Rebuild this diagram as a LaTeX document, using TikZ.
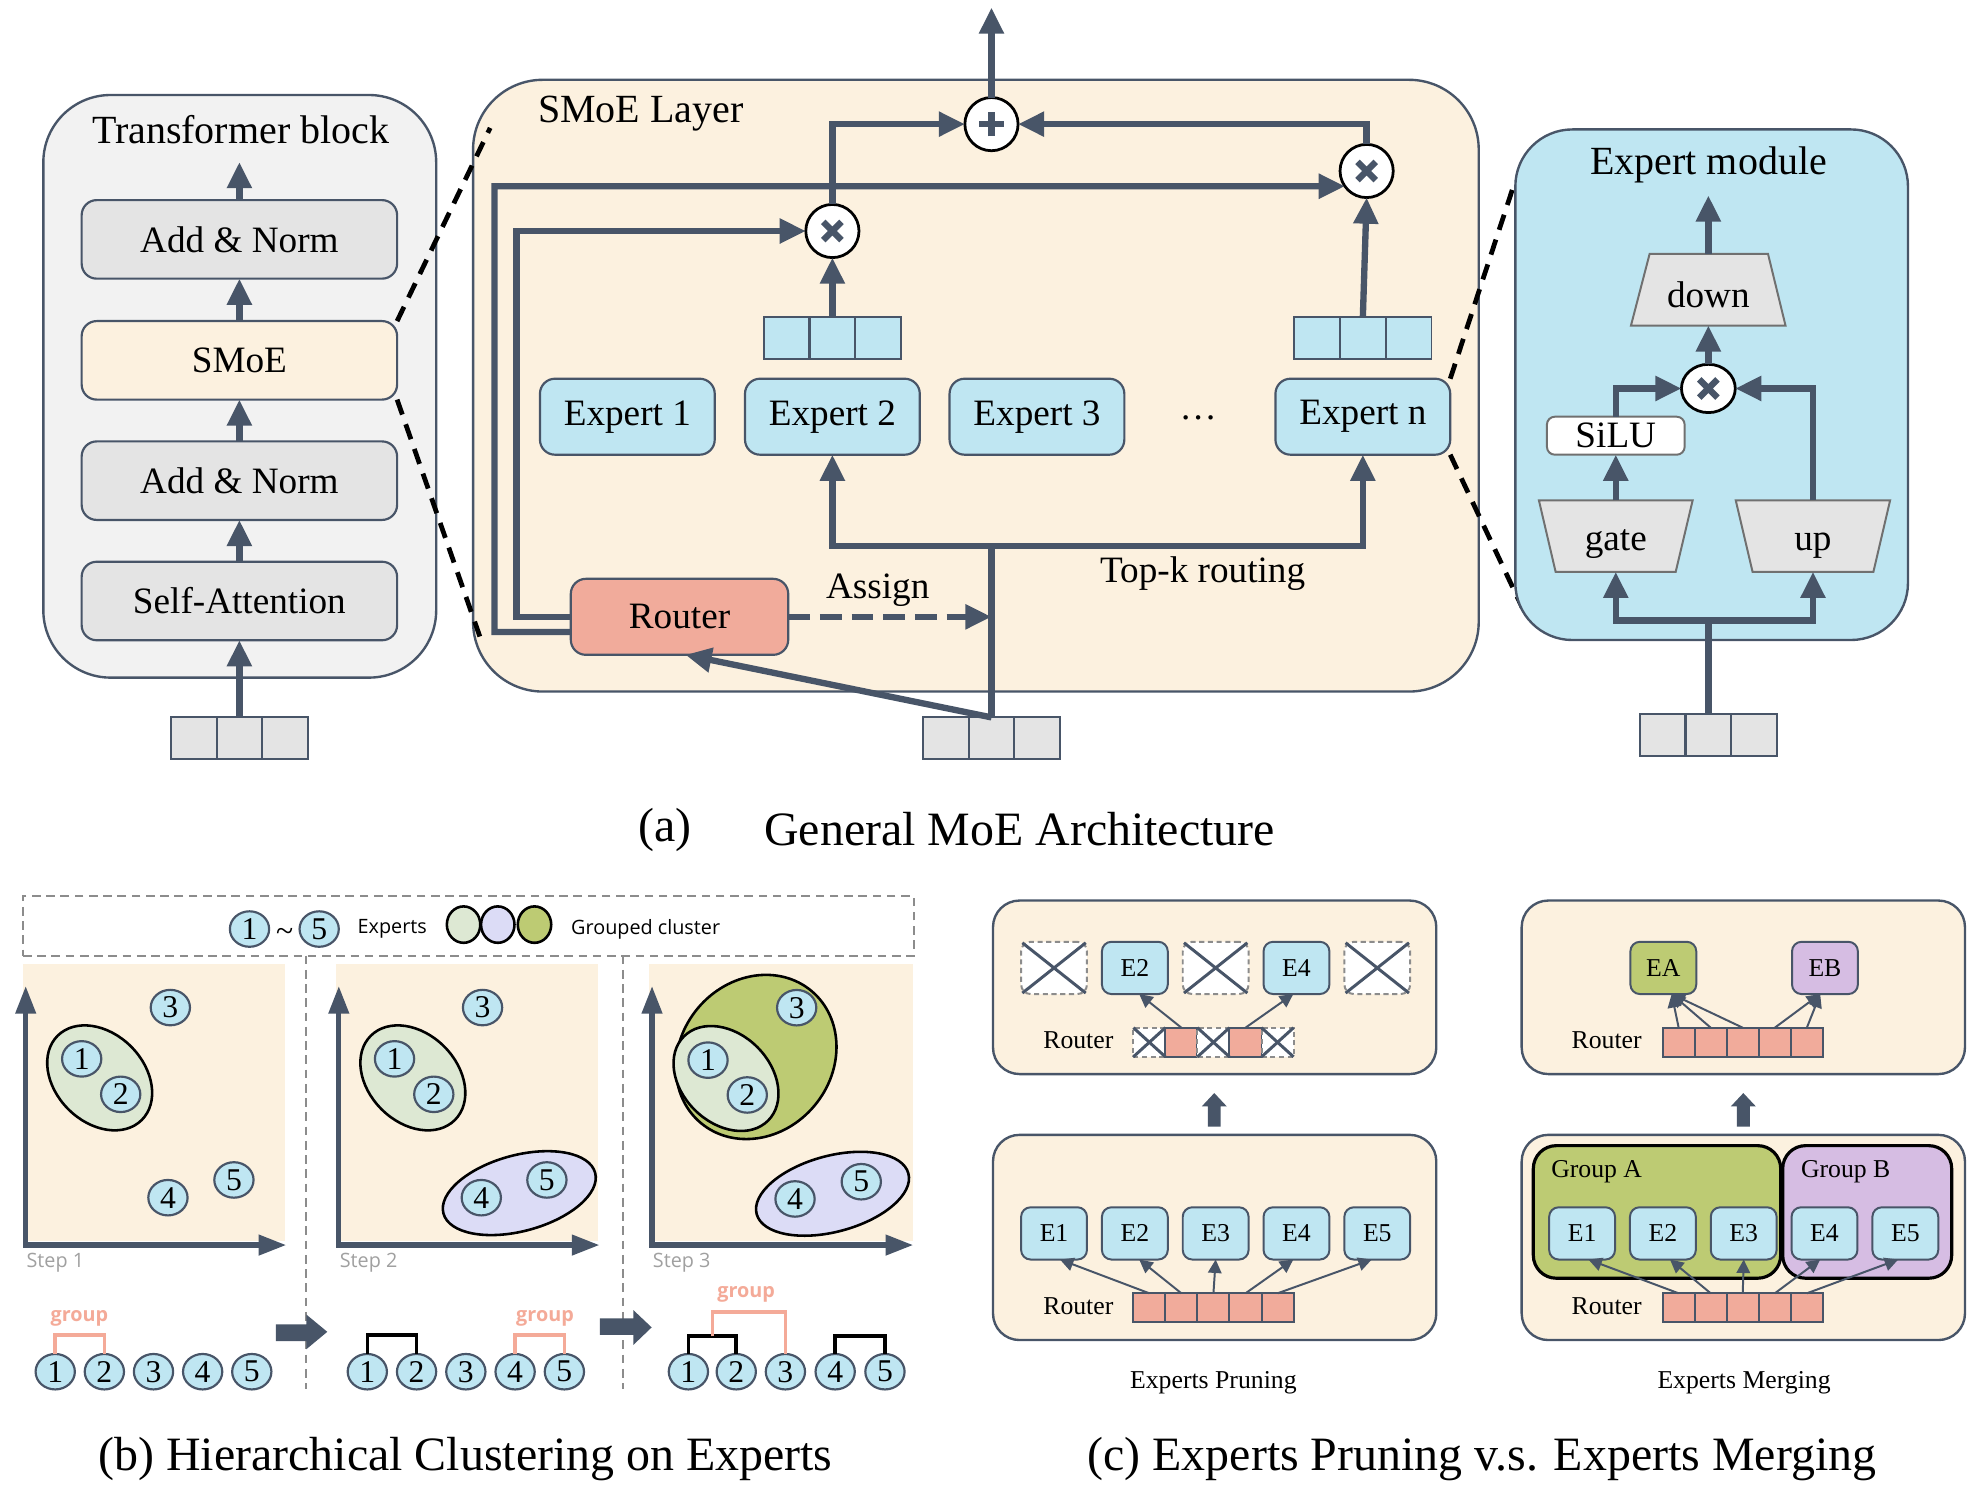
\documentclass[tikz,border=0pt]{standalone}
\usepackage{fontspec}
\setmainfont{Liberation Serif}
\newfontfamily\osans{Open Sans}
\usetikzlibrary{arrows.meta,shapes.geometric,calc}
\definecolor{slate}{RGB}{72,85,104}
\definecolor{cream}{RGB}{252,241,223}
\definecolor{lgray}{RGB}{228,228,228}
\definecolor{pgray}{RGB}{242,242,242}
\definecolor{eblue}{RGB}{191,230,242}
\definecolor{salm}{RGB}{241,171,155}
\definecolor{lgreen}{RGB}{221,232,211}
\definecolor{lav}{RGB}{220,220,246}
\definecolor{olive}{RGB}{189,203,115}
\definecolor{lilac}{RGB}{214,189,227}
\definecolor{grpc}{RGB}{244,170,152}
\definecolor{stepc}{RGB}{160,160,160}
\definecolor{trapb}{RGB}{112,112,112}
\definecolor{dgray}{RGB}{140,140,140}
\newcommand\fsT{\fontsize{10.1}{12}\selectfont}
\newcommand\fsM{\fontsize{9.4}{11}\selectfont}
\newcommand\fsC{\fontsize{12.1}{14}\selectfont}
\newcommand\fsS{\fontsize{6.5}{8}\selectfont}
\newcommand\fsN{\fontsize{8}{9}\selectfont}
\newcommand\fsL{\osans\fontsize{5}{6}\selectfont}
\newcommand\fsG{\osans\bfseries\fontsize{5}{6}\selectfont}
\newcommand\drawtimes[1]{\draw[slate,line width=1.6pt] ([shift={(-2.3pt,-2.3pt)}]#1.center) -- ([shift={(2.3pt,2.3pt)}]#1.center) ([shift={(-2.3pt,2.3pt)}]#1.center) -- ([shift={(2.3pt,-2.3pt)}]#1.center);}
\newcommand\drawplus[1]{\draw[slate,line width=1.7pt] ([xshift=-3.1pt]#1.center) -- ([xshift=3.1pt]#1.center) ([yshift=-3.1pt]#1.center) -- ([yshift=3.1pt]#1.center);}
\begin{document}
\begin{tikzpicture}[x=0.32pt,y=-0.32pt,
  every node/.style={inner sep=0pt, outer sep=0pt},
  conn/.style={draw=slate, line width=1.6pt, -{Triangle[length=6.6pt,width=6pt]}},
  plainln/.style={draw=slate, line width=1.6pt},
  bigpanel/.style={draw=slate, line width=0.6pt},
  tbox/.style={draw=slate, line width=0.55pt, fill=lgray, rounded corners=3.8pt, minimum width=79.7pt, minimum height=19.84pt, font=\fsM},
  ebox/.style={draw=slate, line width=0.55pt, fill=eblue, rounded corners=3.8pt, minimum width=44.16pt, minimum height=19.2pt, font=\fsM},
  rbox/.style={ebox, fill=salm, minimum width=54.94pt},
  gcell/.style={draw=slate, line width=0.5pt, fill=lgray, minimum width=11.52pt, minimum height=10.5pt},
  bcell/.style={gcell, fill=eblue},
  opc/.style={circle, draw=black, fill=white, line width=0.7pt, minimum size=13.44pt},
  zline/.style={draw=black, line width=1.2pt, dash pattern=on 4pt off 2.6pt},
  trap/.style={draw=trapb, line width=0.5pt, fill=lgray},
  tlabel/.style={minimum height=18.08pt, font=\fsM},
  cpanel/.style={draw=slate, line width=0.6pt, fill=cream, rounded corners=6.7pt, minimum width=112pt},
  cbox/.style={draw=slate, line width=0.5pt, fill=eblue, rounded corners=2.4pt, minimum width=16.64pt, minimum height=13.2pt, font=\fsS},
  xbox/.style={draw=dgray, dash pattern=on 1.3pt off 0.9pt, line width=0.5pt, fill=white, rounded corners=2.4pt, minimum width=16.64pt, minimum height=13.2pt},
  rcell/.style={draw=slate, line width=0.5pt, fill=salm, minimum width=8.1pt, minimum height=7.36pt},
  xcell/.style={rcell, fill=white, draw=dgray, dash pattern=on 1.3pt off 0.9pt},
  xl/.style={draw=slate, line width=0.75pt},
  carr/.style={draw=slate, line width=0.5pt, -{Triangle[length=3.4pt,width=3.4pt]}},
  grp/.style={draw=black, line width=0.8pt, rounded corners=5.8pt, minimum height=33.5pt},
  numc/.style={ellipse, draw=slate, line width=0.55pt, fill=eblue, minimum width=9.92pt, minimum height=8.96pt, font=\fsN},
  clus/.style={draw=black, line width=0.65pt},
  axisln/.style={draw=slate, line width=1.3pt, {Triangle[length=7pt,width=5pt]}-{Triangle[length=7pt,width=5pt]}},
  blk/.style={draw=black, line width=0.9pt},
  grpln/.style={draw=grpc, line width=0.9pt},
  grpl/.style={font=\fsG, text=grpc},
  stepl/.style={font=\fsL, text=stepc, anchor=west},
  sepln/.style={draw=dgray, line width=0.45pt, dash pattern=on 2.2pt off 1.4pt},
  clab/.style={font=\fsS}
]
\useasboundingbox (0,0) rectangle (1568,1178);
\fill[white] (0,0) rectangle (1568,1178);

% ================= (a) Transformer block =================
\node[bigpanel, fill=pgray, rounded corners=17pt, minimum width=99.26pt, minimum height=147.2pt] (tb) at (189.3,305) {};
\node[font=\fsT] (tbt) at (190,102) {Transformer block};
\node[tbox] (an2) at (189,189) {Add \& Norm};
\node[tbox, fill=cream] (smoe) at (189,284.5) {SMoE};
\node[tbox] (an1) at (189,379.5) {Add \& Norm};
\node[tbox] (sa) at (189,474.5) {Self-Attention};
\node[gcell] (ti1) at (153,582.8) {};
\node[gcell] (ti2) at (189,582.8) {};
\node[gcell] (ti3) at (225,582.8) {};
\coordinate (tbo) at (189,128);
\draw[conn] (ti2.north) -- (sa.south);
\draw[conn] (sa.north) -- (an1.south);
\draw[conn] (an1.north) -- (smoe.south);
\draw[conn] (smoe.north) -- (an2.south);
\draw[conn] (an2.north) -- (tbo);

% ================= (a) SMoE layer =================
\node[bigpanel, fill=cream, rounded corners=17.6pt, minimum width=254.08pt, minimum height=154.56pt] (sl) at (770.5,304.5) {};
\node[font=\fsT] (slt) at (506,90) {SMoE Layer};
\node[ebox] (e1) at (495.3,329) {Expert 1};
\node[ebox] (e2) at (657.2,329) {Expert 2};
\node[ebox] (e3) at (818.7,329) {Expert 3};
\node[ebox] (en) at (1076,329) {Expert n};
\node[font=\fsM] (dots) at (946,330) {\dots};
\node[bcell] (v21) at (621.1,267) {};
\node[bcell] (v22) at (657.2,267) {};
\node[bcell] (v23) at (693.3,267) {};
\node[bcell] (vn1) at (1039.8,267) {};
\node[bcell] (vn2) at (1076,267) {};
\node[bcell] (vn3) at (1112.2,267) {};
\node[opc] (xa) at (657.2,182.4) {};
\node[opc] (xb) at (1079,135) {};
\node[opc] (pl) at (782.8,98) {};
\node[rbox] (router) at (536.5,487) {Router};
\node[gcell] (si1) at (746.8,582.8) {};
\node[gcell] (si2) at (782.8,582.8) {};
\node[gcell] (si3) at (818.8,582.8) {};
\coordinate (out) at (782.8,6);
\coordinate (jn) at (782.8,431);
\coordinate (asg) at (782.8,487);
\draw[conn] (v22.north) -- (xa.south);
\draw[conn] (vn2.north) -- (xb.south);
\draw[conn] (xa.north) |- (pl.west);
\draw[conn] (xb.north) |- (pl.east);
\draw[conn] (pl.north) -- (out);
\draw[plainln] (si2.north) -- (jn);
\draw[conn] (jn) -| (e2.south);
\draw[conn] (jn) -| (en.south);
\draw[conn] (si2.north) -- ([xshift=1.5pt]router.south);
\draw[conn, dash pattern=on 5.5pt off 2.5pt] (router.east) -- (asg);
\draw[conn] (router.west) -| (407.7,182.4) -- (xa.west);
\draw[conn] ([yshift=-3.84pt]router.west) -| (390.4,147.05) -- (xb.215);
\drawtimes{xa}
\drawtimes{xb}
\drawplus{pl}
\node[font=\fsM] (asgl) at (693,466) {Assign};
\node[font=\fsM] (topk) at (949.5,453) {Top-k routing};

% zoom connectors
\coordinate (z1) at (387,101);
\coordinate (z2) at (379,503);
\coordinate (z3) at (1196.4,142.5);
\coordinate (z4) at (1202,480);
\draw[zline] (smoe.north east) -- (z1);
\draw[zline] (smoe.south east) -- (z2);
\draw[zline] (en.north east) -- (z3);
\draw[zline] (en.south east) -- (z4);

% ================= (a) Expert module =================
\node[bigpanel, fill=eblue, rounded corners=14.4pt, minimum width=99.2pt, minimum height=129pt] (em) at (1351.4,303.75) {};
\node[font=\fsT] (emt) at (1349,130) {Expert module};
\filldraw[trap] (1302.4,200.5) -- (1395.9,200.5) -- (1409.7,257) -- (1287.7,257) -- cycle;
\filldraw[trap] (1215,395) -- (1336.4,395) -- (1323,451.5) -- (1228.2,451.5) -- cycle;
\filldraw[trap] (1370.4,395) -- (1492.3,395) -- (1479.1,451.5) -- (1383.7,451.5) -- cycle;
\node[tlabel] (down) at (1348.8,228.75) {};
\node[tlabel] (gate) at (1275.7,423.25) {};
\node[tlabel] (up) at (1431.4,423.25) {};
\node[font=\fsM, anchor=base] (downt) at (1348.8,242.5) {down};
\node[font=\fsM, anchor=base] (gatet) at (1275.7,435) {gate};
\node[font=\fsM, anchor=base] (upt) at (1431.4,435) {up};
\node[draw=trapb, line width=0.5pt, fill=white, rounded corners=2pt, minimum width=34.8pt, minimum height=9.6pt, font=\fsM] (silu) at (1275.7,344) {SiLU};
\node[ellipse, draw=black, fill=white, line width=0.7pt, minimum width=13.6pt, minimum height=12.2pt] (ex) at (1348.8,306.7) {};
\drawtimes{ex}
\node[gcell] (mi1) at (1312.7,580.5) {};
\node[gcell] (mi2) at (1348.8,580.5) {};
\node[gcell] (mi3) at (1384.9,580.5) {};
\coordinate (emo) at (1348.8,154.3);
\coordinate (mj) at (1348.8,489.8);
\draw[conn] (down.north) -- (emo);
\draw[conn] (ex.north) -- (down.south);
\draw[conn] (gate.north) -- (silu.south);
\draw[conn] (silu.north) |- (ex.west);
\draw[conn] (up.north) |- (ex.east);
\draw[plainln] (mi2.north) -- (mj);
\draw[conn] (mj) -| (gate.south);
\draw[conn] (mj) -| (up.south);

\node[font=\fsC] (capa1) at (525,655) {(a)};
\node[font=\fsC] (capa2) at (805,655) {General MoE Architecture};

% ================= (b) =================
\node[draw=dgray, line width=0.45pt, dash pattern=on 2.2pt off 1.4pt, minimum width=225.12pt, minimum height=15.04pt] (leg) at (369.75,731) {};
\node[numc] (lg1) at (197,733.5) {1};
\node[font=\fsN] (lgt) at (224.7,738) {\textasciitilde};
\node[numc] (lg5) at (252,733.5) {5};
\node[font=\fsL, anchor=west] (lgx) at (282.4,733.5) {Experts};
\node[ellipse, draw=black, line width=0.65pt, fill=lgreen, minimum width=8.45pt, minimum height=9.2pt] (lc1) at (366,730) {};
\node[ellipse, draw=black, line width=0.65pt, fill=lav, minimum width=8.45pt, minimum height=9.2pt] (lc2) at (393,730) {};
\node[ellipse, draw=black, line width=0.65pt, fill=olive, minimum width=8.45pt, minimum height=9.2pt] (lc3) at (422,730) {};
\node[font=\fsL, anchor=west] (lgc) at (451,733.5) {Grouped cluster};

\draw[sepln] (241.5,754.5) -- (241.5,1097);
\draw[sepln] (491.6,754.5) -- (491.6,1097);

\fill[cream] (18,761) rectangle (225,980);
\fill[cream] (265.25,761) rectangle (472.25,980);
\fill[cream] (512.5,761) rectangle (721,980);
\draw[axisln] (20.3,778.5) -- (20.3,983) -- (226,983);
\draw[axisln] (267.5,778.5) -- (267.5,983) -- (473.3,983);
\draw[axisln] (514.8,778.5) -- (514.8,983) -- (721,983);

% clusters
\draw[clus, fill=lgreen, rotate around={-45:(78.7,851)}] (78.7,851) ellipse [x radius=47, y radius=35];
\draw[clus, fill=lgreen, rotate around={-45:(325.95,851)}] (325.95,851) ellipse [x radius=47, y radius=35];
\draw[clus, fill=lav, rotate around={15:(410,942)}] (410,942) ellipse [x radius=62, y radius=30];
\draw[clus, fill=olive, rotate around={50:(597,834.5)}] (597,834.5) ellipse [x radius=68, y radius=60];
\draw[clus, fill=lgreen, rotate around={-45:(573.2,851.5)}] (573.2,851.5) ellipse [x radius=47, y radius=35];
\draw[clus, fill=lav, rotate around={15:(657.3,942.5)}] (657.3,942.5) ellipse [x radius=62, y radius=30];

% step 1
\node[numc] (s1n1) at (64.5,836) {1};
\node[numc] (s1n2) at (95.3,864) {2};
\node[numc] (s1n3) at (134.5,795.5) {3};
\node[numc] (s1n4) at (132.6,945.6) {4};
\node[numc] (s1n5) at (184.7,931.6) {5};
% step 2
\node[numc] (s2n1) at (311.5,836) {1};
\node[numc] (s2n2) at (342.5,864) {2};
\node[numc] (s2n3) at (381,795.5) {3};
\node[numc] (s2n4) at (380,945.6) {4};
\node[numc] (s2n5) at (431.8,931.6) {5};
% step 3
\node[numc] (s3n1) at (559,837) {1};
\node[numc] (s3n2) at (590,864.5) {2};
\node[numc] (s3n3) at (629,795.6) {3};
\node[numc] (s3n4) at (627.7,946.6) {4};
\node[numc] (s3n5) at (680,933) {5};

\node[stepl] (st1) at (21,997) {Step 1};
\node[stepl] (st2) at (268.3,997) {Step 2};
\node[stepl] (st3) at (515.5,997) {Step 3};

% dendrogram rows
\node[numc] (b1n1) at (43.6,1083) {1};
\node[numc] (b1n2) at (82.4,1083) {2};
\node[numc] (b1n3) at (121.2,1083) {3};
\node[numc] (b1n4) at (160,1083) {4};
\node[numc] (b1n5) at (198.8,1083) {5};
\node[numc] (b2n1) at (290,1083) {1};
\node[numc] (b2n2) at (328.9,1083) {2};
\node[numc] (b2n3) at (367.8,1083) {3};
\node[numc] (b2n4) at (406.7,1083) {4};
\node[numc] (b2n5) at (445.6,1083) {5};
\node[numc] (b3n1) at (543.5,1083) {1};
\node[numc] (b3n2) at (581.3,1083) {2};
\node[numc] (b3n3) at (620.1,1083) {3};
\node[numc] (b3n4) at (659.4,1083) {4};
\node[numc] (b3n5) at (698.7,1083) {5};

\draw[grpln] (b1n1.north) -- ++(0,-15) -| (b1n2.north);
\draw[blk] (b2n1.north) -- ++(0,-15) -| (b2n2.north);
\draw[grpln] (b2n4.north) -- ++(0,-15) -| (b2n5.north);
\draw[blk] (b3n1.north) -- ++(0,-14) -| (b3n2.north);
\draw[blk] (b3n4.north) -- ++(0,-14) -| (b3n5.north);
\coordinate (m12) at ($(b3n1.north)!0.5!(b3n2.north)+(0,-14)$);
\draw[grpln] (m12) -- ++(0,-19) -| (b3n3.north);
\node[grpl] (g1) at (62.7,1041) {group};
\node[grpl] (g2) at (430.3,1041) {group};
\node[grpl] (g3) at (589.1,1022) {group};

\fill[slate] (217.9,1045.6) -- (241.8,1045.6) -- (241.8,1037.8) -- (258.4,1051.5) -- (241.8,1065.3) -- (241.8,1058.8) -- (217.9,1058.8) -- cycle;
\fill[slate] (473.7,1040.8) -- (500,1040.8) -- (500,1034.3) -- (514.5,1048) -- (500,1061.9) -- (500,1054) -- (473.7,1054) -- cycle;

\node[font=\fsC] (capb) at (367.5,1152) {(b) Hierarchical Clustering on Experts};

% ================= (c) Pruning =================
\node[cpanel, minimum height=43.84pt] (pt) at (959,779.5) {};
\node[cpanel, minimum height=51.84pt] (pb) at (959,977) {};
\node[xbox] (px1) at (832.2,764.2) {};
\node[cbox] (pe2) at (896,764.2) {E2};
\node[xbox] (px3) at (959.8,764.2) {};
\node[cbox] (pe4) at (1023.6,764.2) {E4};
\node[xbox] (px5) at (1087.4,764.2) {};
\foreach \n in {px1,px3,px5}{
  \draw[xl, shorten <=0.4pt, shorten >=0.4pt] (\n.north west) -- (\n.south east);
  \draw[xl, shorten <=0.4pt, shorten >=0.4pt] (\n.north east) -- (\n.south west);
}
\node[clab] (prt) at (851.4,821) {Router};
\node[xcell] (tc1) at (907.45,822.9) {};
\node[rcell] (tc2) at (932.75,822.9) {};
\node[xcell] (tc3) at (958.05,822.9) {};
\node[rcell] (tc4) at (983.35,822.9) {};
\node[xcell] (tc5) at (1008.65,822.9) {};
\foreach \n in {tc1,tc3,tc5}{
  \draw[xl] (\n.north west) -- (\n.south east);
  \draw[xl] (\n.north east) -- (\n.south west);
}
\draw[carr] (tc2.north) -- ([xshift=1.1pt]pe2.south);
\draw[carr] (tc4.north) -- ([xshift=-0.8pt]pe4.south);

\node[cbox] (pb1) at (832.2,973.8) {E1};
\node[cbox] (pb2) at (896,973.8) {E2};
\node[cbox] (pb3) at (959.8,973.8) {E3};
\node[cbox] (pb4) at (1023.6,973.8) {E4};
\node[cbox] (pb5) at (1087.4,973.8) {E5};
\node[clab] (prb) at (851.4,1031) {Router};
\node[rcell] (bc1) at (907.45,1032.6) {};
\node[rcell] (bc2) at (932.75,1032.6) {};
\node[rcell] (bc3) at (958.05,1032.6) {};
\node[rcell] (bc4) at (983.35,1032.6) {};
\node[rcell] (bc5) at (1008.65,1032.6) {};
\draw[carr] (bc1.north) -- ([xshift=1.5pt]pb1.south);
\draw[carr] (bc2.north) -- ([xshift=1.1pt]pb2.south);
\draw[carr] (bc3.north) -- (pb3.south);
\draw[carr] (bc4.north) -- ([xshift=-0.8pt]pb4.south);
\draw[carr] (bc5.north) -- ([xshift=-1.4pt]pb5.south);
\fill[slate] (953.6,889.5) -- (953.6,873.5) -- (948.85,873.5) -- (958.7,863) -- (968.55,873.5) -- (963.8,873.5) -- (963.8,889.5) -- cycle;
\node[clab] (cp1) at (958,1092) {Experts Pruning};

% ================= (c) Merging =================
\node[cpanel, minimum height=43.84pt] (mt) at (1376.4,779.5) {};
\node[cpanel, minimum height=51.84pt] (mb) at (1376.4,977) {};
\node[cbox, fill=olive] (ea) at (1313.25,764.2) {EA};
\node[cbox, fill=lilac] (eb) at (1440.85,764.2) {EB};
\node[clab] (mrt) at (1268.5,821) {Router};
\node[rcell] (mc1) at (1325.35,822.9) {};
\node[rcell] (mc2) at (1350.65,822.9) {};
\node[rcell] (mc3) at (1375.95,822.9) {};
\node[rcell] (mc4) at (1401.25,822.9) {};
\node[rcell] (mc5) at (1426.55,822.9) {};
\draw[carr] (mc1.north) -- ([xshift=2.1pt]ea.south);
\draw[carr] (mc2.north) -- ([xshift=2.1pt]ea.south);
\draw[carr] (mc3.north) -- ([xshift=2.1pt]ea.south);
\draw[carr] (mc4.north) -- ([xshift=-1.2pt]eb.south);
\draw[carr] (mc5.north) -- ([xshift=-1.2pt]eb.south);
\fill[slate] (1371.25,889.5) -- (1371.25,873.5) -- (1366.55,873.5) -- (1376.4,863) -- (1386.25,873.5) -- (1381.55,873.5) -- (1381.55,889.5) -- cycle;

\node[grp, fill=olive, minimum width=62.5pt] (ga) at (1308.25,956.85) {};
\node[grp, fill=lilac, minimum width=42.7pt] (gb) at (1474.2,956.85) {};
\node[clab] (gat) at (1260.6,925) {Group A};
\node[clab] (gbt) at (1457.2,925) {Group B};
\node[cbox] (mb1) at (1249.1,973.8) {E1};
\node[cbox] (mb2) at (1312.9,973.8) {E2};
\node[cbox] (mb3) at (1376.7,973.8) {E3};
\node[cbox] (mb4) at (1440.5,973.8) {E4};
\node[cbox] (mb5) at (1504.3,973.8) {E5};
\node[clab] (mrb) at (1268.5,1031) {Router};
\node[rcell] (nc1) at (1325.35,1032.6) {};
\node[rcell] (nc2) at (1350.65,1032.6) {};
\node[rcell] (nc3) at (1375.95,1032.6) {};
\node[rcell] (nc4) at (1401.25,1032.6) {};
\node[rcell] (nc5) at (1426.55,1032.6) {};
\draw[carr] (nc1.north) -- ([xshift=1.6pt]mb1.south);
\draw[carr] (nc2.north) -- ([xshift=1.8pt]mb2.south);
\draw[carr] (nc3.north) -- (mb3.south);
\draw[carr] (nc4.north) -- ([xshift=-1.1pt]mb4.south);
\draw[carr] (nc5.north) -- ([xshift=-1.8pt]mb5.south);
\node[clab] (cp2) at (1377,1092) {Experts Merging};

\node[font=\fsC] (capc) at (1170,1152) {(c) Experts Pruning v.s. Experts Merging};
\end{tikzpicture}
\end{document}
